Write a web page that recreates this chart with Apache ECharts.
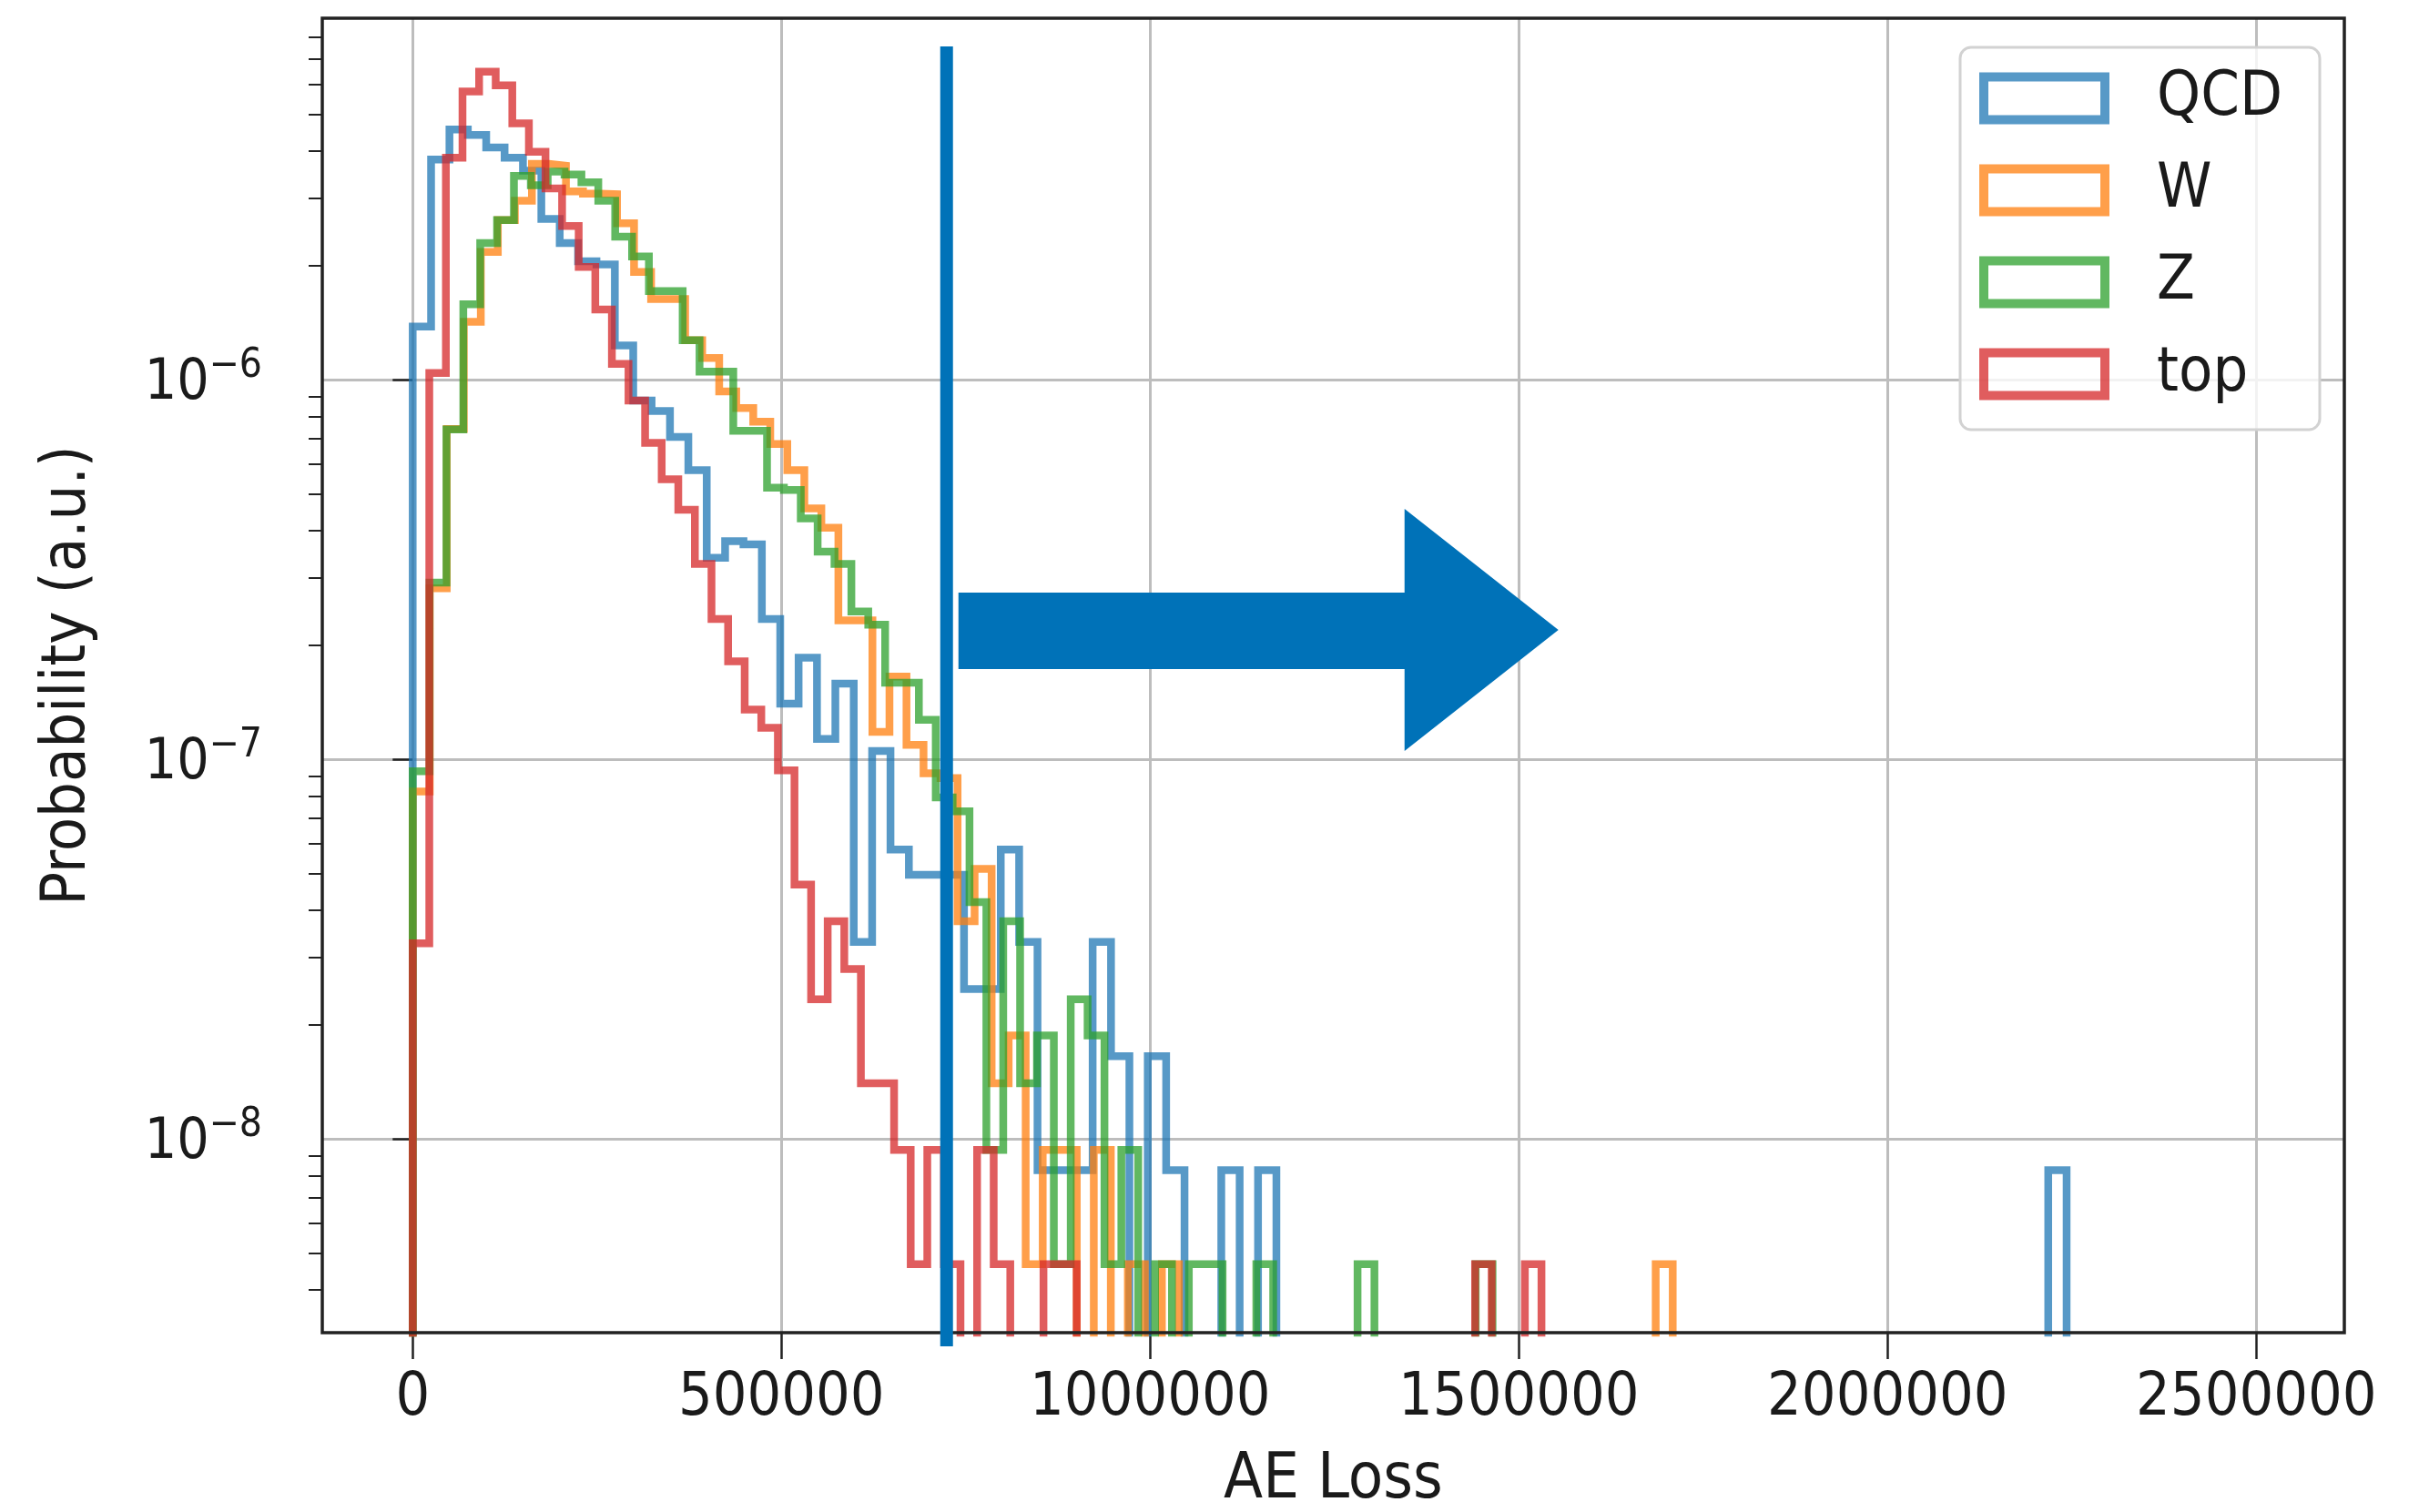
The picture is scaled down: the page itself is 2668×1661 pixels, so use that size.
<!DOCTYPE html>
<html>
<head>
<meta charset="utf-8">
<title>AE Loss</title>
<script src="https://cdn.jsdelivr.net/npm/echarts@6/dist/echarts.min.js"></script>
<style>
  html, body { margin: 0; padding: 0; background: #ffffff; }
  #chart { width: 2668px; height: 1661px; }
</style>
</head>
<body>
<div id="chart"></div>
<script>
// Autoencoder loss distributions per sample, normalised densities on a log axis.
const sampleNames  = ['QCD', 'W', 'Z', 'top'];
const sampleColors = ['#1f77b4', '#ff7f0e', '#2ca02c', '#d62728'];
// histogram bin width of each sample (AE loss units); bins start at 0
const binWidths    = [24920, 23090, 22880, 22510];

// densities per bin (0 = empty bin)
const qcdDensity = [
  1.38e-6, 3.80e-6, 4.56e-6, 4.41e-6, 4.09e-6, 3.84e-6, 3.55e-6, 2.65e-6, 2.29e-6, 2.05e-6,
  2.01e-6, 1.23e-6, 8.81e-7, 8.26e-7, 7.06e-7, 5.77e-7, 3.39e-7, 3.75e-7, 3.68e-7, 2.34e-7,
  1.40e-7, 1.85e-7, 1.13e-7, 1.58e-7, 3.30e-8, 1.05e-7, 5.78e-8, 4.96e-8, 4.96e-8, 4.96e-8,
  2.48e-8, 2.48e-8, 5.78e-8, 3.30e-8, 8.26e-9, 8.26e-9, 8.26e-9, 3.30e-8, 1.65e-8, 0,
  1.65e-8, 8.26e-9, 0, 0, 8.26e-9, 0, 8.26e-9
];
const qcdOutlierBins    = [89];
const qcdOutlierDensity = [8.26e-9];

const wDensity = [
  8.22e-8, 2.82e-7, 7.41e-7, 1.42e-6, 2.17e-6, 2.63e-6, 2.96e-6, 3.70e-6, 3.66e-6, 3.13e-6,
  3.09e-6, 3.08e-6, 2.58e-6, 1.92e-6, 1.63e-6, 1.63e-6, 1.27e-6, 1.14e-6, 9.31e-7, 8.41e-7,
  7.74e-7, 6.76e-7, 5.77e-7, 4.58e-7, 4.07e-7, 2.32e-7, 2.32e-7, 1.18e-7, 1.65e-7, 1.09e-7,
  9.18e-8, 8.91e-8, 3.74e-8, 5.14e-8, 1.40e-8, 1.87e-8, 4.67e-9, 9.34e-9, 9.34e-9, 0,
  9.34e-9, 0, 4.67e-9, 0, 4.67e-9
];
const wOutlierBins    = [73];
const wOutlierDensity = [4.67e-9];

const zDensity = [
  9.29e-8, 2.92e-7, 7.39e-7, 1.58e-6, 2.29e-6, 2.63e-6, 3.44e-6, 3.25e-6, 3.53e-6, 3.47e-6,
  3.31e-6, 2.96e-6, 2.38e-6, 2.11e-6, 1.71e-6, 1.71e-6, 1.27e-6, 1.05e-6, 1.05e-6, 7.33e-7,
  7.33e-7, 5.19e-7, 5.12e-7, 4.31e-7, 3.52e-7, 3.27e-7, 2.45e-7, 2.26e-7, 1.59e-7, 1.59e-7,
  1.27e-7, 7.93e-8, 7.29e-8, 4.20e-8, 9.34e-9, 3.74e-8, 1.40e-8, 1.87e-8, 4.67e-9, 2.33e-8,
  1.87e-8, 4.67e-9, 9.34e-9, 0, 4.67e-9, 0, 4.67e-9, 4.67e-9, 0, 0,
  4.67e-9
];
const zOutlierBins    = [56, 63];
const zOutlierDensity = [4.67e-9, 4.67e-9];

const topDensity = [
  3.27e-8, 1.04e-6, 3.84e-6, 5.74e-6, 6.47e-6, 5.96e-6, 4.73e-6, 3.98e-6, 3.19e-6, 2.54e-6,
  1.98e-6, 1.53e-6, 1.10e-6, 8.81e-7, 6.81e-7, 5.46e-7, 4.54e-7, 3.27e-7, 2.34e-7, 1.81e-7,
  1.35e-7, 1.21e-7, 9.34e-8, 4.67e-8, 2.33e-8, 3.74e-8, 2.80e-8, 1.40e-8, 1.40e-8, 9.34e-9,
  4.67e-9, 9.34e-9, 4.67e-9, 0, 9.34e-9, 4.67e-9, 0, 0, 4.67e-9, 4.67e-9
];
const topOutlierBins    = [64, 67];
const topOutlierDensity = [4.67e-9, 4.67e-9];

// axes
const xTickValues = [0, 500000, 1000000, 1500000, 2000000, 2500000];
const yTickValues = [1e-8, 1e-7, 1e-6];
const xRange = [-122600, 2619400];
const yRange = [Math.pow(10, -8.511), Math.pow(10, -5.048)];
// selection cut on the AE loss
const cutValue = 724000;

const FONT = "'DejaVu Sans Condensed', 'DejaVu Sans', sans-serif";
const TEXT = '#1a1a1a';
const GRID = { left: 354, top: 20, right: 93, bottom: 197 };
const W = 2668, H = 1661;

function mergeBins(main, bins, dens) {
  const d = main.slice();
  bins.forEach((b, i) => {
    while (d.length <= b) d.push(0);
    d[b] = dens[i];
  });
  return d;
}

// step outline of a histogram; empty bins drop below the axis and are clipped
function stepOutline(dens, w) {
  const FLOOR = 1e-14;
  const pts = [[0, FLOOR]];
  dens.forEach((v, k) => {
    const y = v > 0 ? v : FLOOR;
    pts.push([k * w, y], [(k + 1) * w, y]);
  });
  pts.push([dens.length * w, FLOOR]);
  return pts;
}

function rgba(hex, a) {
  const n = parseInt(hex.slice(1), 16);
  return 'rgba(' + ((n >> 16) & 255) + ',' + ((n >> 8) & 255) + ',' + (n & 255) + ',' + a + ')';
}

const densities = [
  mergeBins(qcdDensity, qcdOutlierBins, qcdOutlierDensity),
  mergeBins(wDensity, wOutlierBins, wOutlierDensity),
  mergeBins(zDensity, zOutlierBins, zOutlierDensity),
  mergeBins(topDensity, topOutlierBins, topOutlierDensity)
];

// minor ticks of the log axis: 2..9 x 10^n inside the range
const yMinorTicks = [];
for (let e = -9; e <= -5; e++) {
  for (let m = 2; m <= 9; m++) {
    const v = Number((m * Math.pow(10, e)).toPrecision(3));
    if (v > yRange[0] && v < yRange[1]) yMinorTicks.push(v);
  }
}

function isDecade(v) {
  const l = Math.log10(v);
  return Math.abs(l - Math.round(l)) < 1e-6;
}

const chart = echarts.init(document.getElementById('chart'), null, { renderer: 'canvas', width: W, height: H });

const option = {
  animation: false,
  backgroundColor: '#ffffff',
  grid: {
    left: GRID.left, top: GRID.top, right: GRID.right, bottom: GRID.bottom,
    containLabel: false, outerBoundsMode: 'none', show: false
  },
  legend: {
    orient: 'vertical',
    left: 2153, top: 52,
    padding: [22, 41, 27, 21],
    itemWidth: 133, itemHeight: 47, itemGap: 33,
    backgroundColor: 'rgba(255,255,255,0.8)',
    borderColor: '#d2d2d2', borderWidth: 3, borderRadius: 12,
    selectedMode: false,
    formatter: '{g|}{name}',
    textStyle: {
      fontFamily: FONT, fontSize: 68, color: TEXT,
      rich: { g: { width: 52 } }
    },
    data: sampleNames.map((n, i) => ({
      name: n,
      icon: 'rect',
      itemStyle: { color: 'rgba(0,0,0,0)', borderColor: rgba(sampleColors[i], 0.75), borderWidth: 10 }
    }))
  },
  xAxis: {
    type: 'value',
    min: xRange[0], max: xRange[1],
    name: 'AE Loss', nameLocation: 'middle', nameGap: 128,
    nameTextStyle: { fontFamily: FONT, fontSize: 70, color: TEXT },
    axisLine: { show: false },
    axisTick: { show: true, length: 29, customValues: xTickValues, lineStyle: { color: '#222', width: 2.5 } },
    axisLabel: {
      customValues: xTickValues, margin: 40,
      fontFamily: FONT, fontSize: 66, color: TEXT,
      formatter: v => (Math.abs(v % 500000) < 1e-6 ? String(Math.round(v)) : '')
    },
    splitLine: { show: true, lineStyle: { color: '#bdbdbd', width: 3 } }
  },
  yAxis: [
    {
      type: 'log', logBase: 10,
      min: yRange[0], max: yRange[1],
      name: 'Probability (a.u.)', nameLocation: 'middle', nameGap: 245, nameRotate: 90,
      nameTextStyle: { fontFamily: FONT, fontSize: 68, color: TEXT },
      axisLine: { show: false },
      axisTick: { show: true, length: 22, customValues: yTickValues, lineStyle: { color: '#222', width: 2.5 } },
      axisLabel: {
        customValues: yTickValues, margin: 66,
        formatter: v => {
          if (!isDecade(v)) return '';
          const e = Math.round(Math.log10(v));
          return '{b|10}{e|' + (e < 0 ? '\u2212' : '') + Math.abs(e) + '}';
        },
        rich: {
          b: { fontFamily: FONT, fontSize: 62, lineHeight: 72, verticalAlign: 'bottom', color: TEXT },
          e: { fontFamily: FONT, fontSize: 44, lineHeight: 44, verticalAlign: 'top', color: TEXT }
        }
      },
      splitLine: { show: true, lineStyle: { color: '#bdbdbd', width: 3 } }
    },
    {
      type: 'log', logBase: 10,
      min: yRange[0], max: yRange[1],
      position: 'left',
      axisLine: { show: false },
      axisLabel: { show: false },
      splitLine: { show: false },
      axisTick: { show: true, length: 15, customValues: yMinorTicks, lineStyle: { color: '#222', width: 2 } }
    }
  ],
  series: sampleNames.map((name, i) => ({
    name: name,
    type: 'line',
    data: stepOutline(densities[i], binWidths[i]),
    symbol: 'none',
    showSymbol: false,
    clip: true,
    silent: true,
    emphasis: { disabled: true },
    itemStyle: { color: sampleColors[i] },
    lineStyle: { color: sampleColors[i], width: 8.5, opacity: 0.75, join: 'miter', cap: 'butt' }
  }))
};

chart.setOption(option);

// frame, cut line and arrow on top of the plot
const plotW = W - GRID.left - GRID.right;
const plotH = H - GRID.top - GRID.bottom;
const cutX = chart.convertToPixel({ xAxisIndex: 0 }, cutValue);
const ACCENT = '#0072b8';
const shaftTop = 651, shaftBottom = 735, headTop = 559, headBottom = 825;
const headBase = cutX + 503, tipX = cutX + 672, tipY = 692;

chart.setOption({
  graphic: [
    {
      type: 'rect', z: 50, silent: true,
      shape: { x: GRID.left, y: GRID.top, width: plotW, height: plotH },
      style: { fill: 'none', stroke: '#222', lineWidth: 3.5 }
    },
    {
      type: 'rect', z: 100, silent: true,
      shape: { x: cutX - 7, y: GRID.top + 31, width: 14, height: plotH - 31 + 15 },
      style: { fill: ACCENT }
    },
    {
      type: 'polygon', z: 100, silent: true,
      shape: {
        points: [
          [cutX + 13, shaftTop], [headBase, shaftTop], [headBase, headTop],
          [tipX, tipY], [headBase, headBottom], [headBase, shaftBottom], [cutX + 13, shaftBottom]
        ]
      },
      style: { fill: ACCENT }
    }
  ]
});
</script>
</body>
</html>
